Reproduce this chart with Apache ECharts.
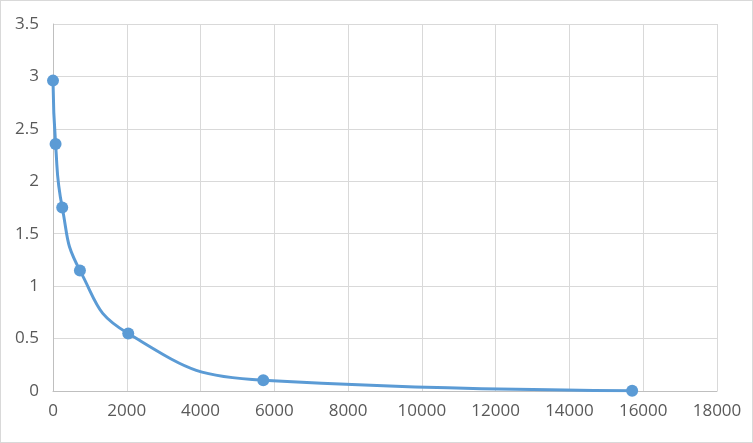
<!DOCTYPE html>
<html>
<head>
<meta charset="utf-8">
<script src="https://cdn.jsdelivr.net/npm/echarts@6/dist/echarts.min.js"></script>
<style>
  html, body { margin: 0; padding: 0; background: #fff; }
  #curveChart {
    width: 751px;
    height: 441px;
    border: 1px solid #d9d9d9;
  }
</style>
</head>
<body>
<div id="curveChart"></div>
<script>
// standard curve points
const concValues = [0, 70, 250, 730, 2040, 5700, 15700]
const odValues = [2.96, 2.355, 1.75, 1.15, 0.548, 0.103, 0.003]
const xTicks = [0, 2000, 4000, 6000, 8000, 10000, 12000, 14000, 16000, 18000]
const yTicks = [0, 0.5, 1, 1.5, 2, 2.5, 3, 3.5]

let points = concValues.map((x, i) => [x, odValues[i]])

let myChart = echarts.init(document.getElementById('curveChart'))
let labelStyle = {
  color: '#595959',
  fontSize: 17,
  fontFamily: 'Open Sans',
  formatter: v => String(v)
}
let options = {
  animation: false,
  grid: {
    left: 52,
    right: 35,
    top: 23,
    bottom: 51
  },
  xAxis: {
    type: 'value',
    min: xTicks[0],
    max: xTicks[xTicks.length - 1],
    interval: 2000,
    axisLine: { show: true, lineStyle: { color: '#bfbfbf', width: 1 } },
    axisTick: { show: false },
    axisLabel: Object.assign({ margin: 12 }, labelStyle),
    splitLine: { show: true, lineStyle: { color: '#d9d9d9', width: 1 } }
  },
  yAxis: {
    type: 'value',
    min: yTicks[0],
    max: yTicks[yTicks.length - 1],
    interval: 0.5,
    axisLine: { show: true, lineStyle: { color: '#bfbfbf', width: 1 } },
    axisTick: { show: false },
    axisLabel: Object.assign({ margin: 14 }, labelStyle),
    splitLine: { show: true, lineStyle: { color: '#d9d9d9', width: 1 } }
  },
  series: [
    {
      type: 'line',
      data: points,
      smooth: 0.5,
      symbol: 'circle',
      symbolSize: 12,
      lineStyle: { color: '#5b9bd5', width: 3 },
      itemStyle: { color: '#5b9bd5' }
    }
  ]
}
myChart.setOption(options)
</script>
</body>
</html>
